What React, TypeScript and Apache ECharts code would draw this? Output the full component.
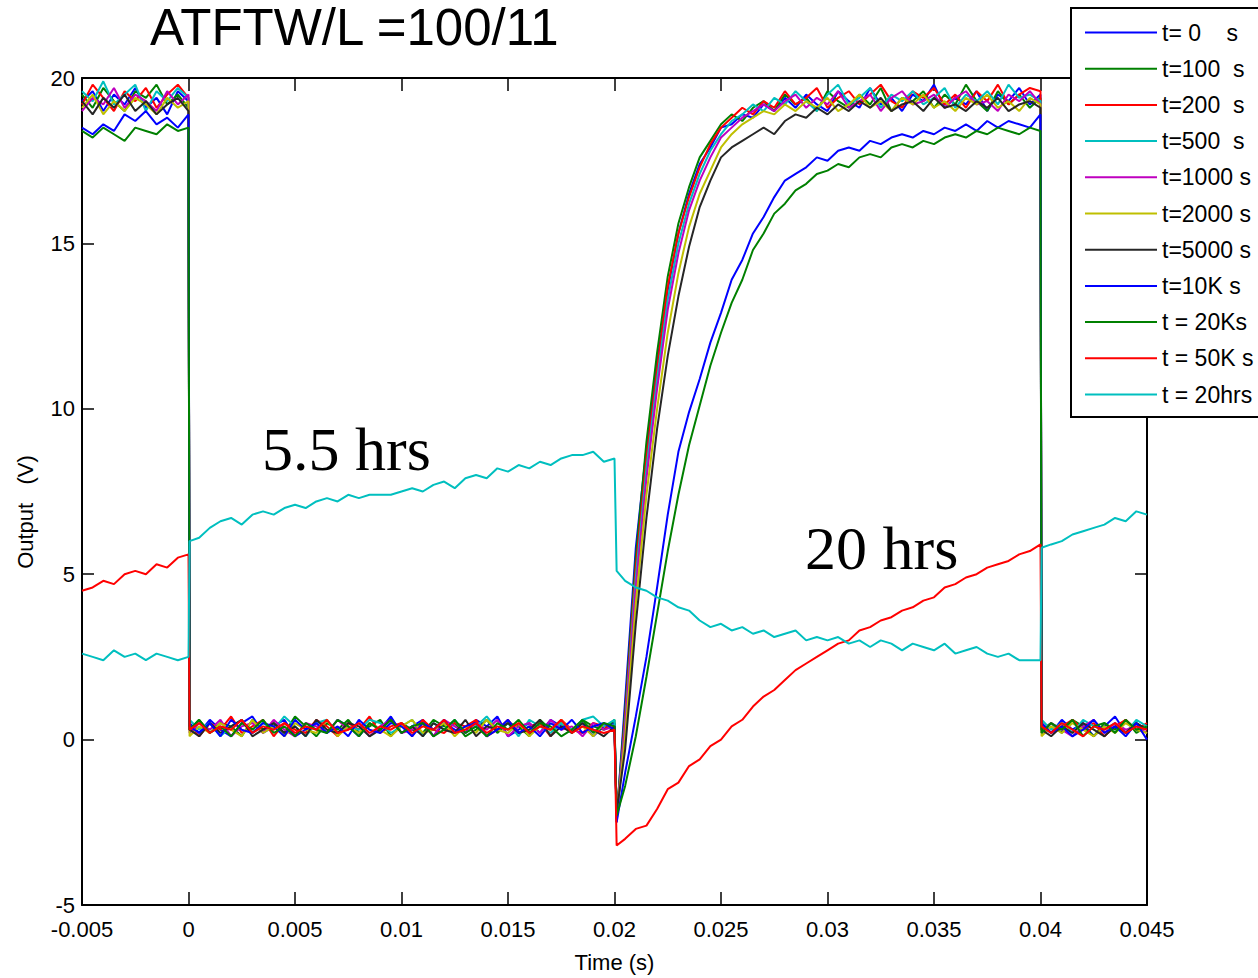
import React, { useEffect, useRef } from "react";
import * as echarts from "echarts";

// ---- sample times (s) ----
const T_PRE = [-0.005, -0.0045, -0.004, -0.0035, -0.003, -0.0025, -0.002, -0.0015, -0.001, -0.0005, 0];
const T_LOW = [0.00005, 0.0005, 0.001, 0.0015, 0.002, 0.0025, 0.003, 0.0035, 0.004, 0.0045,
  0.005, 0.0055, 0.006, 0.0065, 0.007, 0.0075, 0.008, 0.0085, 0.009, 0.0095,
  0.01, 0.0105, 0.011, 0.0115, 0.012, 0.0125, 0.013, 0.0135, 0.014, 0.0145,
  0.015, 0.0155, 0.016, 0.0165, 0.017, 0.0175, 0.018, 0.0185, 0.019, 0.0195,
  0.02];
const T_HIGH = [0.0201, 0.0205, 0.021, 0.0215, 0.022, 0.0225, 0.023, 0.0235, 0.024, 0.0245,
  0.025, 0.0255, 0.026, 0.0265, 0.027, 0.0275, 0.028, 0.0285, 0.029, 0.0295,
  0.03, 0.0305, 0.031, 0.0315, 0.032, 0.0325, 0.033, 0.0335, 0.034, 0.0345,
  0.035, 0.0355, 0.036, 0.0365, 0.037, 0.0375, 0.038, 0.0385, 0.039, 0.0395,
  0.04];
const T_POST = [0.04005, 0.0405, 0.041, 0.0415, 0.042, 0.0425, 0.043, 0.0435, 0.044, 0.0445, 0.045];
const TIME = [...T_PRE, ...T_LOW, ...T_HIGH, ...T_POST];

// ---- output values (V), one array per stress time ----
const V_T0 = [
  19.3, 19.6, 19.0, 19.5, 19.2, 19.7, 19.1, 19.4, 18.9, 19.6, 19.3,
  0.5, 0.2, 0.6, 0.3, 0.1, 0.5, 0.7, 0.2, 0.4, 0.6, 0.1, 0.3, 0.5, 0.2, 0.6, 0.4, 0.1, 0.5, 0.3, 0.7,
  0.2, 0.4, 0.6, 0.1, 0.5, 0.3, 0.2, 0.6, 0.4, 0.7, 0.1, 0.3, 0.5, 0.2, 0.6, 0.4, 0.3, 0.5, 0.1, 0.4, 0.5,
  -2.4, 1.2, 5.8, 8.8, 11.4, 13.6, 15.3, 16.5, 17.4, 17.9, 18.5, 18.6, 18.9, 18.8, 19.2, 19.0, 19.4, 19.1, 19.5, 19.2,
  19.0, 19.6, 19.3, 19.1, 19.7, 19.2, 19.4, 19.0, 19.5, 19.3, 19.8, 19.1, 19.4, 19.2, 19.6, 19.0, 19.5, 19.3, 19.7, 19.2, 19.5,
  0.4, 0.2, 0.6, 0.3, 0.5, 0.1, 0.4, 0.7, 0.2, 0.5, 0.3,
];
const V_T100 = [
  19.5, 19.1, 19.7, 19.3, 19.0, 19.6, 19.4, 19.8, 19.2, 19.5, 19.1,
  0.3, 0.6, 0.2, 0.5, 0.4, 0.1, 0.6, 0.3, 0.5, 0.2, 0.7, 0.4, 0.1, 0.5, 0.3, 0.6, 0.2, 0.4, 0.6, 0.1,
  0.5, 0.3, 0.2, 0.6, 0.4, 0.5, 0.1, 0.3, 0.6, 0.2, 0.5, 0.4, 0.1, 0.6, 0.3, 0.5, 0.2, 0.6, 0.4, 0.3, 0.6,
  -2.3, 0.9, 5.5, 9.0, 11.7, 14.0, 15.6, 16.7, 17.6, 18.1, 18.6, 18.9, 18.7, 19.1, 19.3, 19.0, 19.5, 19.2, 19.4, 19.0,
  19.6, 19.3, 19.1, 19.5, 19.2, 19.7, 19.0, 19.4, 19.3, 19.6, 19.1, 19.5, 19.2, 19.8, 19.3, 19.0, 19.6, 19.2, 19.5, 19.1, 19.4,
  0.3, 0.5, 0.2, 0.6, 0.4, 0.1, 0.5, 0.3, 0.6, 0.2, 0.4,
];
const V_T200 = [
  19.2, 19.8, 19.4, 19.0, 19.6, 19.3, 19.7, 19.1, 19.5, 19.8, 19.4,
  0.4, 0.1, 0.5, 0.3, 0.7, 0.2, 0.4, 0.6, 0.1, 0.5, 0.3, 0.2, 0.6, 0.4, 0.1, 0.5, 0.3, 0.7, 0.2, 0.4,
  0.5, 0.1, 0.6, 0.3, 0.2, 0.5, 0.4, 0.6, 0.1, 0.3, 0.6, 0.2, 0.4, 0.5, 0.1, 0.6, 0.3, 0.2, 0.5, 0.4, 0.3,
  -2.5, 0.7, 5.2, 8.5, 11.2, 13.7, 15.3, 16.4, 17.3, 18.0, 18.5, 18.8, 19.1, 18.9, 19.3, 19.1, 19.6, 19.2, 19.4, 19.7,
  19.1, 19.4, 19.6, 19.2, 19.5, 19.8, 19.3, 19.1, 19.6, 19.4, 19.7, 19.2, 19.5, 19.1, 19.6, 19.3, 19.8, 19.2, 19.5, 19.7, 19.6,
  0.5, 0.2, 0.4, 0.6, 0.3, 0.5, 0.1, 0.4, 0.6, 0.3, 0.5,
];
const V_T500 = [
  19.6, 19.3, 19.9, 19.2, 19.5, 19.8, 19.0, 19.6, 19.3, 19.7, 19.4,
  0.6, 0.3, 0.5, 0.1, 0.4, 0.6, 0.2, 0.5, 0.3, 0.7, 0.4, 0.1, 0.5, 0.6, 0.2, 0.4, 0.3, 0.6, 0.5, 0.2,
  0.4, 0.6, 0.1, 0.5, 0.3, 0.6, 0.2, 0.4, 0.7, 0.3, 0.5, 0.1, 0.6, 0.4, 0.2, 0.5, 0.3, 0.6, 0.7, 0.4, 0.6,
  -2.4, 0.5, 4.9, 8.2, 10.9, 13.3, 15.0, 16.2, 17.1, 17.8, 18.3, 18.7, 18.9, 19.2, 19.0, 19.4, 19.2, 19.6, 19.3, 19.0,
  19.5, 19.8, 19.2, 19.4, 19.7, 19.1, 19.5, 19.3, 19.6, 19.2, 19.4, 19.7, 19.1, 19.5, 19.3, 19.6, 19.2, 19.8, 19.4, 19.5, 19.3,
  0.6, 0.3, 0.5, 0.2, 0.6, 0.4, 0.3, 0.5, 0.2, 0.6, 0.4,
];
const V_T1000 = [
  19.0, 19.4, 19.2, 19.7, 19.1, 19.5, 19.3, 19.0, 19.6, 19.2, 19.5,
  0.2, 0.5, 0.3, 0.6, 0.1, 0.4, 0.5, 0.2, 0.6, 0.3, 0.1, 0.5, 0.4, 0.2, 0.6, 0.3, 0.5, 0.1, 0.4, 0.6,
  0.2, 0.3, 0.5, 0.1, 0.6, 0.4, 0.2, 0.5, 0.3, 0.6, 0.1, 0.4, 0.5, 0.2, 0.6, 0.3, 0.4, 0.1, 0.5, 0.3, 0.4,
  -2.3, 0.4, 4.6, 7.9, 10.6, 13.0, 14.7, 16.0, 16.9, 17.6, 18.2, 18.5, 18.8, 19.0, 19.2, 19.0, 19.3, 19.5, 19.1, 19.4,
  19.2, 19.6, 19.1, 19.3, 19.5, 19.0, 19.4, 19.6, 19.2, 19.3, 19.5, 19.1, 19.4, 19.6, 19.2, 19.3, 19.0, 19.5, 19.3, 19.6, 19.2,
  0.2, 0.5, 0.3, 0.1, 0.4, 0.6, 0.2, 0.5, 0.3, 0.4, 0.2,
];
const V_T2000 = [
  19.1, 19.5, 18.9, 19.3, 19.0, 19.4, 19.2, 18.9, 19.4, 19.1, 19.3,
  0.1, 0.4, 0.2, 0.5, 0.3, 0.1, 0.6, 0.2, 0.4, 0.1, 0.5, 0.3, 0.2, 0.6, 0.1, 0.4, 0.2, 0.5, 0.3, 0.1,
  0.4, 0.6, 0.2, 0.3, 0.5, 0.1, 0.4, 0.2, 0.6, 0.3, 0.2, 0.5, 0.1, 0.4, 0.3, 0.6, 0.2, 0.4, 0.1, 0.5, 0.3,
  -2.3, 0.1, 4.1, 7.4, 10.0, 12.3, 14.1, 15.5, 16.5, 17.2, 17.9, 18.3, 18.6, 18.8, 19.0, 18.9, 19.2, 19.0, 19.3, 19.1,
  19.4, 19.0, 19.2, 19.5, 19.1, 19.3, 19.0, 19.4, 19.2, 19.5, 19.1, 19.3, 19.0, 19.4, 19.2, 19.5, 19.1, 19.3, 19.0, 19.4, 19.2,
  0.1, 0.4, 0.2, 0.5, 0.3, 0.1, 0.4, 0.2, 0.5, 0.3, 0.2,
];
const V_T5000 = [
  19.3, 18.9, 19.4, 19.1, 19.5, 19.0, 19.3, 18.9, 19.2, 19.4, 19.0,
  0.3, 0.1, 0.5, 0.2, 0.4, 0.6, 0.1, 0.3, 0.5, 0.2, 0.4, 0.1, 0.6, 0.3, 0.2, 0.5, 0.4, 0.1, 0.3, 0.6,
  0.2, 0.4, 0.1, 0.5, 0.3, 0.2, 0.6, 0.1, 0.4, 0.3, 0.5, 0.2, 0.3, 0.6, 0.1, 0.4, 0.2, 0.5, 0.3, 0.1, 0.4,
  -2.2, -0.3, 3.5, 6.7, 9.4, 11.6, 13.4, 14.9, 16.1, 16.9, 17.6, 17.9, 18.1, 18.3, 18.5, 18.3, 18.7, 18.9, 18.8, 19.1,
  18.9, 19.2, 19.0, 19.3, 19.1, 19.4, 19.0, 19.2, 19.3, 19.0, 19.4, 19.1, 19.2, 19.0, 19.3, 19.1, 19.4, 19.0, 19.2, 19.3, 19.1,
  0.3, 0.1, 0.4, 0.2, 0.5, 0.3, 0.1, 0.4, 0.2, 0.5, 0.3,
];
const V_T10K = [
  18.5, 18.3, 18.6, 18.4, 18.9, 18.7, 19.0, 18.6, 18.8, 18.5, 18.9,
  0.4, 0.2, 0.5, 0.1, 0.6, 0.3, 0.2, 0.5, 0.4, 0.1, 0.6, 0.3, 0.5, 0.2, 0.4, 0.1, 0.6, 0.3, 0.2, 0.5,
  0.4, 0.1, 0.5, 0.3, 0.6, 0.2, 0.4, 0.5, 0.1, 0.3, 0.6, 0.2, 0.4, 0.1, 0.5, 0.3, 0.6, 0.2, 0.4, 0.5, 0.3,
  -2.5, -1.0, 0.7, 2.5, 4.6, 6.8, 8.7, 9.9, 10.9, 12.0, 12.9, 13.9, 14.5, 15.3, 15.8, 16.4, 16.9, 17.1, 17.3, 17.6,
  17.5, 17.8, 17.9, 17.8, 18.1, 18.0, 18.2, 18.3, 18.2, 18.4, 18.3, 18.5, 18.4, 18.6, 18.4, 18.7, 18.5, 18.7, 18.6, 18.5, 18.9,
  0.5, 0.2, 0.4, 0.1, 0.3, 0.6, 0.2, 0.4, 0.1, 0.5, 0.0,
];
const V_T20K = [
  18.4, 18.2, 18.5, 18.3, 18.1, 18.5, 18.4, 18.3, 18.6, 18.4, 18.5,
  0.3, 0.6, 0.2, 0.4, 0.1, 0.5, 0.3, 0.6, 0.2, 0.4, 0.1, 0.5, 0.3, 0.2, 0.6, 0.4, 0.1, 0.5, 0.3, 0.6,
  0.2, 0.4, 0.5, 0.1, 0.3, 0.6, 0.2, 0.4, 0.1, 0.5, 0.3, 0.6, 0.2, 0.5, 0.4, 0.1, 0.3, 0.6, 0.2, 0.5, 0.4,
  -2.3, -1.4, 0.1, 1.9, 3.8, 5.7, 7.4, 8.9, 10.1, 11.3, 12.3, 13.2, 13.9, 14.8, 15.3, 15.9, 16.2, 16.6, 16.8, 17.1,
  17.2, 17.4, 17.3, 17.6, 17.7, 17.6, 17.9, 18.0, 17.9, 18.1, 18.0, 18.2, 18.3, 18.2, 18.4, 18.3, 18.5, 18.4, 18.3, 18.5, 18.4,
  0.2, 0.5, 0.3, 0.6, 0.1, 0.4, 0.5, 0.2, 0.6, 0.3, 0.4,
];
const V_T50K = [
  4.5, 4.6, 4.8, 4.7, 5.0, 5.1, 5.0, 5.3, 5.2, 5.5, 5.6,
  0.3, 0.5, 0.2, 0.4, 0.3, 0.6, 0.2, 0.4, 0.3, 0.5, 0.2, 0.4, 0.3, 0.6, 0.2, 0.3, 0.5, 0.2, 0.4, 0.3,
  0.5, 0.2, 0.4, 0.3, 0.6, 0.2, 0.3, 0.5, 0.2, 0.4, 0.3, 0.5, 0.2, 0.4, 0.3, 0.6, 0.2, 0.4, 0.3, 0.2, 0.3,
  -3.2, -3.0, -2.7, -2.6, -2.1, -1.5, -1.3, -0.8, -0.6, -0.2, 0.0, 0.4, 0.6, 1.0, 1.3, 1.5, 1.8, 2.1, 2.3, 2.5,
  2.7, 2.9, 3.0, 3.3, 3.4, 3.6, 3.7, 3.9, 4.0, 4.2, 4.3, 4.6, 4.7, 4.9, 5.0, 5.2, 5.3, 5.4, 5.6, 5.7, 5.9,
  0.4, 0.2, 0.5, 0.3, 0.1, 0.4, 0.3, 0.5, 0.2, 0.4, 0.3,
];
const V_T20HRS = [
  2.6, 2.5, 2.4, 2.7, 2.5, 2.6, 2.4, 2.6, 2.5, 2.4, 2.5,
  6.0, 6.1, 6.4, 6.6, 6.7, 6.5, 6.8, 6.9, 6.8, 7.0, 7.1, 7.0, 7.2, 7.3, 7.2, 7.4, 7.3, 7.4, 7.4, 7.4,
  7.5, 7.6, 7.5, 7.7, 7.8, 7.6, 7.9, 8.0, 7.9, 8.2, 8.1, 8.3, 8.2, 8.4, 8.3, 8.5, 8.6, 8.6, 8.7, 8.4, 8.5,
  5.1, 4.8, 4.6, 4.5, 4.3, 4.2, 4.0, 3.9, 3.6, 3.4, 3.5, 3.3, 3.4, 3.2, 3.3, 3.1, 3.2, 3.3, 3.0, 3.1,
  3.0, 3.1, 2.9, 3.0, 2.8, 3.0, 2.9, 2.7, 2.9, 2.8, 2.7, 2.9, 2.6, 2.7, 2.8, 2.6, 2.5, 2.6, 2.4, 2.4, 2.4,
  5.8, 5.9, 6.0, 6.2, 6.3, 6.4, 6.5, 6.7, 6.6, 6.9, 6.8,
];

const SERIES_NAMES = ["t= 0    s", "t=100  s", "t=200  s", "t=500  s", "t=1000 s", "t=2000 s", "t=5000 s", "t=10K s", "t = 20Ks", "t = 50K s", "t = 20hrs"];
const SERIES_VALUES = [V_T0, V_T100, V_T200, V_T500, V_T1000, V_T2000, V_T5000, V_T10K, V_T20K, V_T50K, V_T20HRS];
const SERIES_COLORS = ["#0000ff", "#008000", "#ff0000", "#00bfbf", "#bf00bf", "#bfbf00", "#262626", "#0000ff", "#008000", "#ff0000", "#00bfbf"];

const X_TICK_MIN = -0.005, X_TICK_MAX = 0.045, X_TICK_STEP = 0.005;
const Y_TICK_MIN = -5, Y_TICK_MAX = 20, Y_TICK_STEP = 5;

const TITLE = "ATFTW/L =100/11";
const NOTE_A = "5.5 hrs";
const NOTE_B = "20 hrs";

const SANS = "'Liberation Sans', Arial, Helvetica, sans-serif";
const SERIF = "'Liberation Serif', 'Times New Roman', serif";

export default function App() {
  const ref = useRef<HTMLDivElement>(null);
  useEffect(() => {
    if (!ref.current) return;
    const chart = echarts.init(ref.current, null, { renderer: "svg" });
    const fmt = (v: number) => String(parseFloat(v.toFixed(4)));
    const axisLine = { onZero: false, lineStyle: { color: "#000", width: 2 } };
    const xTick = { inside: true, length: 13, lineStyle: { color: "#000", width: 1.5 } };
    const yTick = { inside: true, length: 12, lineStyle: { color: "#000", width: 1.5 } };
    const series = SERIES_NAMES.map((name, k) => ({
      name,
      type: "line",
      xAxisIndex: 0,
      yAxisIndex: 0,
      symbol: "none",
      showSymbol: false,
      lineStyle: { color: SERIES_COLORS[k], width: 2 },
      itemStyle: { color: SERIES_COLORS[k] },
      data: TIME.map((t, i) => [t, SERIES_VALUES[k][i]]),
    }));
    chart.setOption({
      animation: false,
      backgroundColor: "#ffffff",
      grid: { left: 82, right: 111, top: 78, bottom: 69, containLabel: false },
      xAxis: [
        {
          type: "value", position: "bottom", min: X_TICK_MIN, max: X_TICK_MAX, interval: X_TICK_STEP,
          axisLine, axisTick: xTick, splitLine: { show: false },
          axisLabel: { color: "#000", fontSize: 22, fontFamily: SANS, margin: 13, formatter: fmt },
          name: "Time (s)", nameLocation: "middle", nameGap: 46,
          nameTextStyle: { color: "#000", fontSize: 22, fontFamily: SANS },
        },
        {
          type: "value", position: "top", min: X_TICK_MIN, max: X_TICK_MAX, interval: X_TICK_STEP,
          axisLine, axisTick: xTick, splitLine: { show: false }, axisLabel: { show: false },
        },
      ],
      yAxis: [
        {
          type: "value", position: "left", min: Y_TICK_MIN, max: Y_TICK_MAX, interval: Y_TICK_STEP,
          axisLine, axisTick: yTick, splitLine: { show: false },
          axisLabel: { color: "#000", fontSize: 22, fontFamily: SANS, margin: 7, formatter: fmt },
        },
        {
          type: "value", position: "right", min: Y_TICK_MIN, max: Y_TICK_MAX, interval: Y_TICK_STEP,
          axisLine, axisTick: yTick, splitLine: { show: false }, axisLabel: { show: false },
        },
      ],
      legend: {
        orient: "vertical",
        left: 1071,
        top: 8,
        padding: [13, 30, 11, 14],
        icon: "rect",
        itemWidth: 72,
        itemHeight: 2,
        itemGap: 13.2,
        selectedMode: false,
        backgroundColor: "#ffffff",
        borderColor: "#000",
        borderWidth: 2,
        borderRadius: 0,
        textStyle: { color: "#000", fontSize: 23, lineHeight: 23, fontFamily: SANS },
        data: SERIES_NAMES,
      },
      graphic: [
        {
          type: "text", x: 150, y: 27, z: 100,
          style: { text: TITLE, font: `51px ${SANS}`, lineHeight: 44, fill: "#000", textAlign: "left", textVerticalAlign: "middle" },
        },
        {
          type: "text", x: 262, y: 449, z: 100,
          style: { text: NOTE_A, font: `62px ${SERIF}`, fill: "#000", textAlign: "left", textVerticalAlign: "middle" },
        },
        {
          type: "text", x: 805, y: 548, z: 100,
          style: { text: NOTE_B, font: `62px ${SERIF}`, fill: "#000", textAlign: "left", textVerticalAlign: "middle" },
        },
        {
          type: "text", x: 25, y: 512, rotation: Math.PI / 2, z: 100,
          style: { text: "Output   (V)", font: `22px ${SANS}`, fill: "#000", textAlign: "center", textVerticalAlign: "middle" },
        },
      ],
      series,
    });
    return () => chart.dispose();
  }, []);
  return <div ref={ref} style={{ position: "fixed", left: 0, top: 0, width: 1258, height: 978 }} />;
}
